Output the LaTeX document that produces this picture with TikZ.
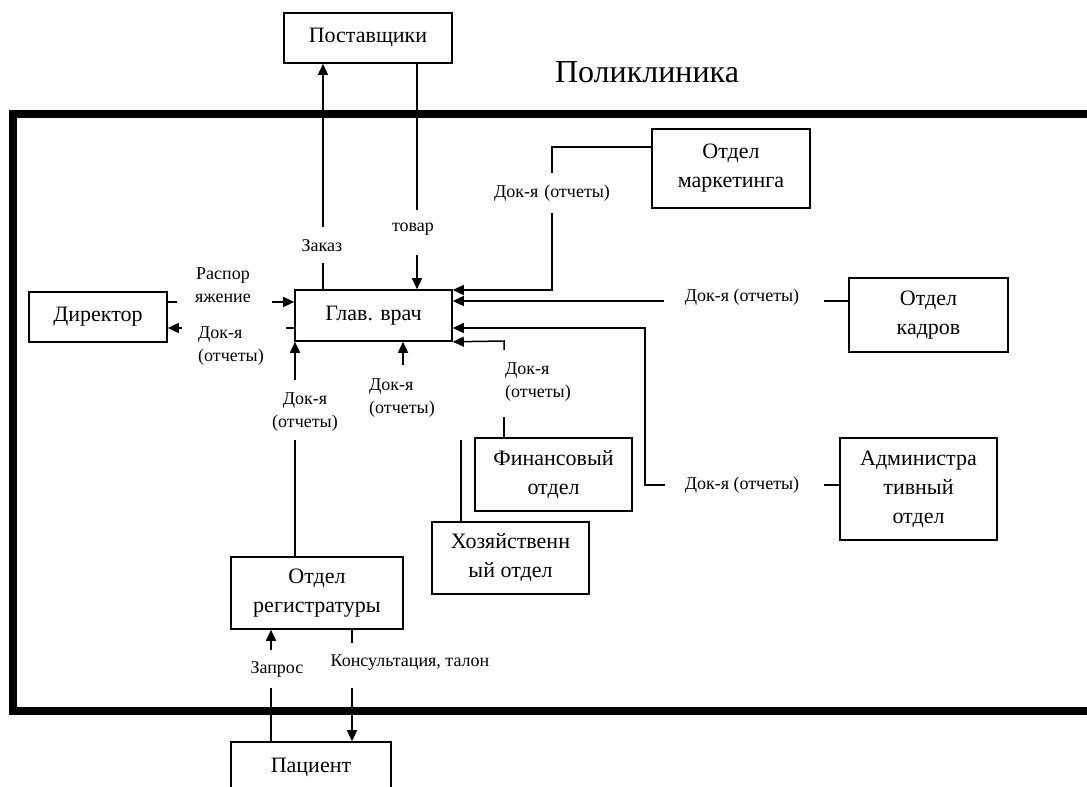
\documentclass[tikz,border=0pt]{standalone}
\usepackage{fontspec}
\setmainfont{Liberation Serif}
\usetikzlibrary{arrows.meta}
\begin{document}
\begin{tikzpicture}[x=1pt,y=-1pt,
  box/.style={draw,line width=1.6pt,align=center,inner sep=0pt,font=\fontsize{22}{29}\selectfont},
  lbl/.style={inner sep=0pt,align=center,font=\fontsize{18}{23}\selectfont},
  conn/.style={line width=1.5pt},
  arr/.style={-{Triangle[length=11pt,width=10pt]}},
  frame/.style={line width=8pt}]
\useasboundingbox (0,0) rectangle (1087,787);
\clip (0,0) rectangle (1087,787);
\node[font=\fontsize{32}{38}\selectfont,inner sep=0pt] (title) at (647,72) {Поликлиника};
\draw[frame] (13,114) rectangle (1120,711);
% boxes
\node[box,minimum width=168pt,minimum height=50pt] (post) at (368,38) {Поставщики};
\node[box,minimum width=138pt,minimum height=50pt] (dir) at (98,317) {Директор};
\node[box,minimum width=157pt,minimum height=51pt] (glav) at (373.5,315.5) {Глав. врач};
\node[box,minimum width=158pt,minimum height=79pt] (mark) at (731,168.5) {Отдел\\маркетинга};
\node[box,minimum width=159pt,minimum height=74pt] (kadr) at (928.5,315) {Отдел\\кадров};
\node[box,minimum width=157pt,minimum height=73pt] (fin) at (553.5,474.5) {Финансовый\\отдел};
\node[box,minimum width=157pt,minimum height=102pt] (adm) at (918.5,489) {Администра\\тивный\\отдел};
\node[box,minimum width=157pt,minimum height=72pt] (hoz) at (510.5,558) {Хозяйственн\\ый отдел};
\node[box,minimum width=172pt,minimum height=72pt] (reg) at (317,593) {Отдел\\регистратуры};
\node[box,minimum width=160pt,minimum height=50pt] (pac) at (311,767) {Пациент};
% labels
\node[lbl] (lzak) at (322,246) {Заказ};
\node[lbl] (ltov) at (413,229) {товар};
\node[lbl] (lras) at (223,285) {Распор\\яжение};
\node[lbl,align=left,anchor=west] (ldir) at (198,346) {Док-я\\(отчеты)};
\node[lbl] (lmar) at (552,193) {Док-я\hspace{6pt}(отчеты)};
\node[lbl] (lkad) at (742,297) {Док-я (отчеты)};
\node[lbl] (ladm) at (742,485) {Док-я (отчеты)};
\node[lbl,align=left,anchor=west] (lfin) at (505,382) {Док-я\\(отчеты)};
\node[lbl,align=left,anchor=west] (lhoz) at (369,398) {Док-я\\(отчеты)};
\node[lbl] (lreg) at (305,412) {Док-я\\(отчеты)};
\node[lbl] (lzap) at (277,669) {Запрос};
\node[lbl] (lkon) at (410,663) {Консультация, талон};
% Заказ
\coordinate (zk1) at (323,263); \coordinate (zk2) at (323,227);
\draw[conn] (glav.north -| zk1) -- (zk1);
\draw[conn,arr] (zk2) -- (post.south -| zk2);
% товар
\coordinate (tv1) at (417,210); \coordinate (tv2) at (417,255);
\draw[conn] (post.south -| tv1) -- (tv1);
\draw[conn,arr] (tv2) -- (glav.north -| tv2);
% Распоряжение
\coordinate (rs1) at (177,302); \coordinate (rs2) at (272,302);
\draw[conn] (dir.east |- rs1) -- (rs1);
\draw[conn,arr] (rs2) -- (glav.west |- rs2);
% Док-я -> Директор
\coordinate (dd1) at (286,328); \coordinate (dd2) at (182,328);
\draw[conn] (glav.west |- dd1) -- (dd1);
\draw[conn,arr] (dd2) -- (dir.east |- dd2);
% маркетинг
\coordinate (mk0) at (552,147); \coordinate (mk1) at (552,173);
\coordinate (mk2) at (552,213); \coordinate (mk3) at (552,290);
\draw[conn] (mark.west |- mk0) -- (mk0) -- (mk1);
\draw[conn,arr] (mk2) -- (mk3) -- (glav.east |- mk3);
% кадры
\coordinate (kd1) at (824,301); \coordinate (kd2) at (664,301);
\draw[conn] (kadr.west |- kd1) -- (kd1);
\draw[conn,arr] (kd2) -- (glav.east |- kd2);
% административный
\coordinate (ad1) at (824,485); \coordinate (ad2) at (665,485);
\coordinate (ad3) at (645,485); \coordinate (ad4) at (645,328);
\draw[conn] (adm.west |- ad1) -- (ad1);
\draw[conn,arr] (ad2) -- (ad3) -- (ad4) -- (glav.east |- ad4);
% финансовый
\coordinate (fn1) at (504,417); \coordinate (fn2) at (504,350); \coordinate (fn3) at (504,341);
\draw[conn] (fin.north -| fn1) -- (fn1);
\draw[conn,arr] (fn2) -- (fn3) -- (glav.south east);
% хозяйственный
\coordinate (hz1) at (461,440);
\draw[conn] (hoz.north -| hz1) -- (hz1);
\coordinate (hz2) at (403,365);
\draw[conn,arr] (hz2) -- (glav.south -| hz2);
% регистратура
\coordinate (rg1) at (295,440); \coordinate (rg2) at (295,380);
\draw[conn] (reg.north -| rg1) -- (rg1);
\draw[conn,arr] (rg2) -- (glav.south -| rg2);
% Запрос
\coordinate (zp1) at (271,688); \coordinate (zp2) at (271,650);
\draw[conn] (pac.north -| zp1) -- (zp1);
\draw[conn,arr] (zp2) -- (reg.south -| zp2);
% Консультация
\coordinate (ks1) at (352,643); \coordinate (ks2) at (352,688);
\draw[conn] (reg.south -| ks1) -- (ks1);
\draw[conn,arr] (ks2) -- (pac.north -| ks2);
\end{tikzpicture}
\end{document}
